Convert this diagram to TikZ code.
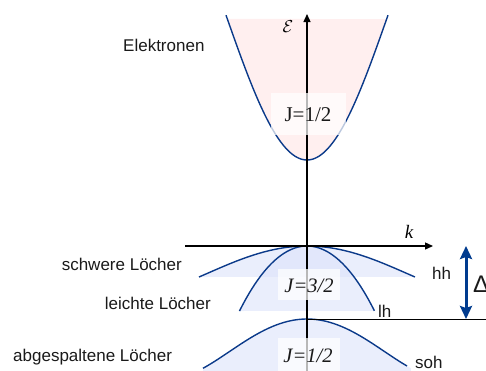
\documentclass[tikz,border=0pt]{standalone}
\usepackage{fontspec}
\setmainfont{Liberation Sans}
\newfontfamily\seriffont{Liberation Serif}
\usetikzlibrary{arrows.meta}
\definecolor{band}{HTML}{0B3A8A}
\definecolor{arrowblue}{HTML}{003B8E}
\definecolor{pinkfill}{HTML}{FFEFEF}
\definecolor{bluefill}{HTML}{DCE3FA}
\definecolor{txt}{HTML}{1A1A1A}
\begin{document}
\begin{tikzpicture}[x=1pt,y=-1pt,
  bandline/.style={draw=band,line width=1.4pt},
  holefill/.style={fill=bluefill,fill opacity=0.6},
  axisline/.style={draw=black,line width=1.3pt,-{Triangle[length=8pt,width=7pt]}},
  lbl/.style={font=\fontsize{17}{20}\selectfont,text=txt,inner sep=0pt},
  jlbl/.style={font=\seriffont\fontsize{21}{24}\selectfont,text=txt,inner sep=0pt},
  jbox/.style={fill=white,fill opacity=0.72,draw=none,inner sep=0pt}]
\useasboundingbox (0,0) rectangle (486,370);
% conduction band fill
\fill[pinkfill] plot[domain=-0.797:0.797,samples=81,variable=\u] ({307+100*\u},{160-(266.8*\u*\u-70.2*\u*\u*\u*\u)}) -- cycle;
% hole fills
\path[holefill] plot[domain=-1.08:1.08,samples=81,variable=\u] ({307+100*\u},{246+(33.15*\u*\u-5.64*\u*\u*\u*\u)}) -- cycle;
\path[holefill] plot[domain=-0.675:0.675,samples=81,variable=\u] ({307+100*\u},{246+(137.1*\u*\u+12.2*\u*\u*\u*\u)}) -- cycle;
\path[holefill] plot[domain=-1.04:1.04,samples=81,variable=\u] ({307+100*\u},{319+(64.9*\u*\u-17.9*\u*\u*\u*\u)}) -- (411,372) -- (203,372) -- cycle;
% band curves
\draw[bandline] plot[domain=-0.81:0.81,samples=81,variable=\u] ({307+100*\u},{160-(266.8*\u*\u-70.2*\u*\u*\u*\u)});
\draw[bandline] plot[domain=-1.08:1.08,samples=81,variable=\u] ({307+100*\u},{246+(33.15*\u*\u-5.64*\u*\u*\u*\u)});
\draw[bandline] plot[domain=-0.675:0.675,samples=81,variable=\u] ({307+100*\u},{246+(137.1*\u*\u+12.2*\u*\u*\u*\u)});
\draw[bandline] plot[domain=-1.04:1.0,samples=81,variable=\u] ({307+100*\u},{319+(64.9*\u*\u-17.9*\u*\u*\u*\u)});
% axes
\coordinate (ybot) at (307,372);
\coordinate (ytop) at (307,14);
\coordinate (xl) at (185,246);
\coordinate (xr) at (433,246);
\coordinate (sl) at (307,319);
\coordinate (sr) at (490,319);
\draw[axisline] (ybot) -- (ytop);
\draw[axisline] (xl) -- (xr);
\draw[black,line width=0.9pt] (sl) -- (sr);
% split-off arrow
\coordinate (da) at (466,246);
\coordinate (db) at (466,319);
\draw[arrowblue,line width=3pt,{Stealth[length=13pt,width=12pt,inset=2pt]}-{Stealth[length=13pt,width=12pt,inset=2pt]}] (da) -- (db);
% label boxes
\path[jbox] (271,93) rectangle (346,135);
\path[jbox] (278,269) rectangle (340,300);
\path[jbox] (278,338) rectangle (340,372);
% texts
\node[jlbl,anchor=base] (j1) at (308,121) {J=1/2};
\node[jlbl,anchor=base,font=\seriffont\itshape\fontsize{20.5}{24}\selectfont] (j3) at (309,292) {J=3/2};
\node[jlbl,anchor=base,font=\seriffont\itshape\fontsize{20.5}{24}\selectfont] (j2) at (308,362) {J=1/2};
\node[inner sep=0pt,font=\fontsize{16}{18}\selectfont] (E) at (288,27) {$\mathcal{E}$};
\node[inner sep=0pt,anchor=base,font=\seriffont\itshape\fontsize{19}{22}\selectfont] (k) at (409,238) {k};
\node[lbl,anchor=base west] (el) at (123,51) {Elektronen};
\node[lbl,anchor=base east] (sl1) at (182,270) {schwere Löcher};
\node[lbl,anchor=base east] (ll1) at (211,309) {leichte Löcher};
\node[lbl,anchor=base west] (al1) at (13,361) {abgespaltene Löcher};
\node[lbl,anchor=base west] (hh) at (432,279) {hh};
\node[lbl,anchor=base west] (lh) at (378,317) {lh};
\node[lbl,anchor=base west] (soh) at (415,368) {soh};
\node[inner sep=0pt,anchor=base west,font=\fontsize{24}{28}\selectfont,text=txt] (D) at (473,292) {Δ};
\end{tikzpicture}
\end{document}
